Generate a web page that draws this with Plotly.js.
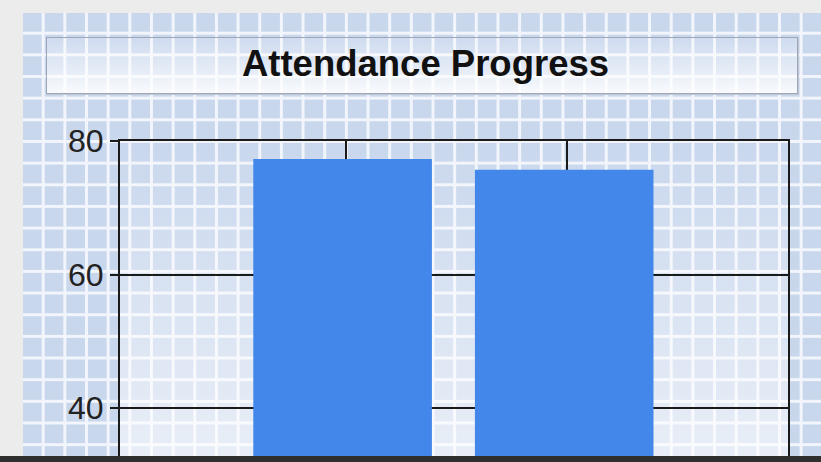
<!DOCTYPE html>
<html>
<head>
<meta charset="utf-8">
<script src="https://cdn.plot.ly/plotly-3.0.1.min.js"></script>
<style>
  html, body { margin:0; padding:0; width:821px; height:462px; overflow:hidden; background:#ececec; }
  #bg { position:absolute; left:23px; top:13px; width:798px; height:449px;
        background-color:#c9d7ed;
        background-image:
          linear-gradient(to right, rgba(0,0,0,0) 19.1px, #f2f5fb 19.1px, #f2f5fb 21.67px),
          linear-gradient(to bottom, rgba(0,0,0,0) 19.1px, #f2f5fb 19.1px, #f2f5fb 21.67px);
        background-size: 21.67px 21.67px; z-index:0; }
  #titlebox { position:absolute; left:46px; top:37px; width:750px; height:55px;
        border:1px solid #9ea6b7; box-shadow:1px 1px 0 #c0c6d2;
        background:linear-gradient(to bottom, rgba(255,255,255,0.10), rgba(255,255,255,0.5) 55%, rgba(255,255,255,0.88));
        z-index:1; }
  #plotgrad { position:absolute; left:120px; top:141px; width:668px; height:321px;
        background:linear-gradient(to bottom, rgba(255,255,255,0.0), rgba(255,255,255,0.6));
        z-index:1; }
  #chart { position:absolute; left:0; top:0; width:821px; height:462px; z-index:2; }
  #bottombar { position:absolute; left:0; top:456px; width:821px; height:6px; background:#2f2f2f; z-index:3; }
</style>
</head>
<body>
<div id="bg"></div>
<div id="titlebox"></div>
<div id="plotgrad"></div>
<div id="chart"></div>
<div id="bottombar"></div>
<script>
  // Data
  var categories = [1, 2];
  var attendance = [77.3, 75.7];
  var yTickValues = [40, 60, 80];
  var yTickLabels = ['40', '60', '80'];
  var chartTitle = 'Attendance Progress';

  var trace = {
    type: 'bar',
    x: categories,
    y: attendance,
    width: 0.806,
    offset: -0.417,
    marker: { color: '#4287e9', line: { width: 0 } },
    hoverinfo: 'skip'
  };

  var layout = {
    width: 821,
    height: 462,
    margin: { l: 120, r: 33, t: 141, b: 0, pad: 0 },
    paper_bgcolor: 'rgba(0,0,0,0)',
    plot_bgcolor: 'rgba(0,0,0,0)',
    showlegend: false,
    title: {
      text: chartTitle,
      font: { family: 'Liberation Sans, Arial, sans-serif', size: 36.5, color: '#111111', weight: 'bold' },
      x: 425.5 / 821,
      xanchor: 'center',
      xref: 'container',
      y: 1 - 63 / 462,
      yanchor: 'middle',
      yref: 'container'
    },
    xaxis: {
      range: [-0.0185, 2.996],
      tickmode: 'array',
      tickvals: categories,
      showgrid: true,
      gridcolor: '#1a1a1a',
      gridwidth: 2,
      zeroline: false,
      showline: true,
      linecolor: '#1a1a1a',
      linewidth: 2,
      mirror: true,
      showticklabels: false,
      ticks: ''
    },
    yaxis: {
      range: [80 - 321 / 6.675, 80],
      tickmode: 'array',
      tickvals: yTickValues,
      ticktext: yTickLabels,
      showgrid: true,
      gridcolor: '#1a1a1a',
      gridwidth: 2,
      zeroline: false,
      showline: true,
      linecolor: '#1a1a1a',
      linewidth: 2,
      mirror: true,
      ticks: 'outside',
      ticklen: 8,
      tickwidth: 2,
      tickcolor: '#1a1a1a',
      ticklabelstandoff: 0,
      tickfont: { family: 'Liberation Sans, Arial, sans-serif', size: 32, color: '#222222' }
    }
  };

  Plotly.newPlot('chart', [trace], layout, { displayModeBar: false, staticPlot: true });
</script>
</body>
</html>
